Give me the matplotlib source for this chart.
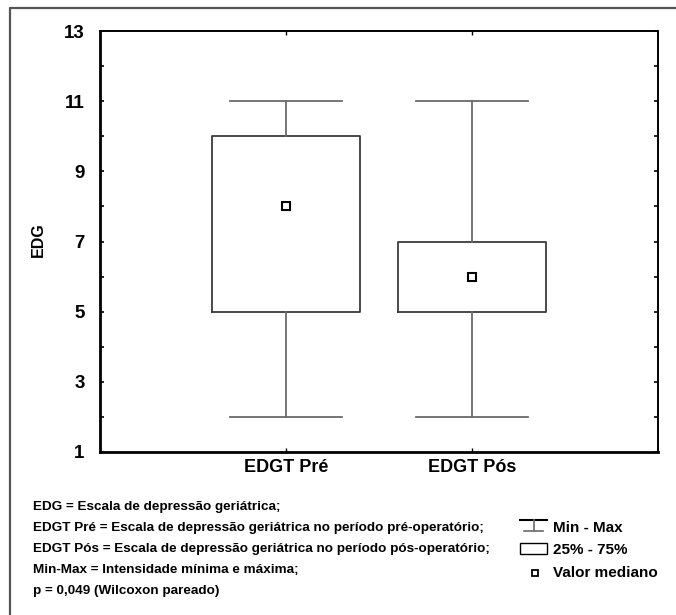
"""Boxplot EDG pré x pós (mínimo, quartis, mediana)."""

import matplotlib
matplotlib.use("Agg")
import matplotlib.pyplot as plt
from matplotlib.lines import Line2D
from matplotlib.patches import Rectangle

# dados
categorias = ["EDGT Pré", "EDGT Pós"]
minimo = [2, 2]
q1 = [5, 5]
mediana = [8, 6]
q3 = [10, 7]
maximo = [11, 11]

notas = [
    "EDG = Escala de depressão geriátrica;",
    "EDGT Pré = Escala de depressão geriátrica no período pré-operatório;",
    "EDGT Pós = Escala de depressão geriátrica no período pós-operatório;",
    "Min-Max = Intensidade mínima e máxima;",
    "p = 0,049 (Wilcoxon pareado)",
]
legenda = ["Min - Max", "25% - 75%", "Valor mediano"]

plt.rcParams["font.family"] = "Liberation Sans"
plt.rcParams["font.weight"] = "bold"

W, H = 676, 615
fig = plt.figure(figsize=(W / 100, H / 100), dpi=100)
ax = fig.add_axes([100 / W, 1 - 452 / H, 558 / W, 421 / H])

stats = []
for i, nome in enumerate(categorias):
    stats.append(dict(label=nome, whislo=minimo[i], q1=q1[i], med=mediana[i],
                      q3=q3[i], whishi=maximo[i], mean=mediana[i]))

cor_caixa = "#3a3a3a"
cor_bigode = "#6a6a6a"
ax.bxp(stats, positions=[1, 2], widths=0.8, capwidths=0.6,
       showmeans=True, showfliers=False,
       boxprops=dict(color=cor_caixa, linewidth=1.3),
       whiskerprops=dict(color=cor_bigode, linewidth=1.3),
       capprops=dict(color=cor_bigode, linewidth=1.3),
       medianprops=dict(linewidth=0),
       meanprops=dict(marker="s", markersize=5.5, markerfacecolor="white",
                      markeredgecolor="black", markeredgewidth=1.5))

ax.set_xlim(0, 3)
ax.set_ylim(1, 13)
ax.set_yticks(range(1, 14, 2))
ax.set_yticks(range(1, 14), minor=True)
ax.tick_params(axis="y", which="both", direction="in", length=3, width=1.2,
               right=True, labelsize=13.5, pad=11)
ax.tick_params(axis="x", direction="in", length=3, width=1, top=True,
               labelsize=13, pad=5)
for s in ax.spines.values():
    s.set_linewidth(1.4)
ax.spines["left"].set_linewidth(2)
ax.spines["bottom"].set_linewidth(2)

ax.set_ylabel("EDG", fontsize=11.5, fontweight="bold", va="center")
ax.yaxis.set_label_coords(-0.110, 0.504)

# moldura externa
fig.add_artist(Line2D([10 / W, 10 / W, 1], [0, 1 - 8 / H, 1 - 8 / H],
                      color="#555555", linewidth=1.6))

# notas de rodapé
for i, t in enumerate(notas):
    fig.text(33 / W, 1 - (507 + 21 * i) / H, t, fontsize=9.7,
             va="center", ha="left")

# legenda manual
px = lambda x, y: (x / W, 1 - y / H)
yl = [528, 550, 573]
x0, x1 = 520, 547
xm = (x0 + x1) / 2
fig.add_artist(Line2D([px(x0, 0)[0], px(x1, 0)[0]], [px(0, 520)[1]] * 2,
                      color="black", linewidth=1.5))
fig.add_artist(Line2D([px(xm, 0)[0]] * 2, [px(0, 520)[1], px(0, 531)[1]],
                      color=cor_bigode, linewidth=1.2))
fig.add_artist(Line2D([px(x0 + 4, 0)[0], px(x1 - 4, 0)[0]], [px(0, 531)[1]] * 2,
                      color=cor_bigode, linewidth=1.2))
fig.add_artist(Rectangle(px(x0, 554), (x1 - x0) / W, 11 / H, transform=fig.transFigure,
                         facecolor="white", edgecolor="black", linewidth=1))
fig.add_artist(Line2D([px(535, 0)[0]], [px(0, yl[2])[1]], marker="s",
                      markersize=4.5, markerfacecolor="white",
                      markeredgecolor="black", markeredgewidth=1.3))
for y, t in zip(yl, legenda):
    fig.text(553 / W, 1 - y / H, t, fontsize=11, va="center", ha="left")

fig.savefig("out.png", dpi=100)
